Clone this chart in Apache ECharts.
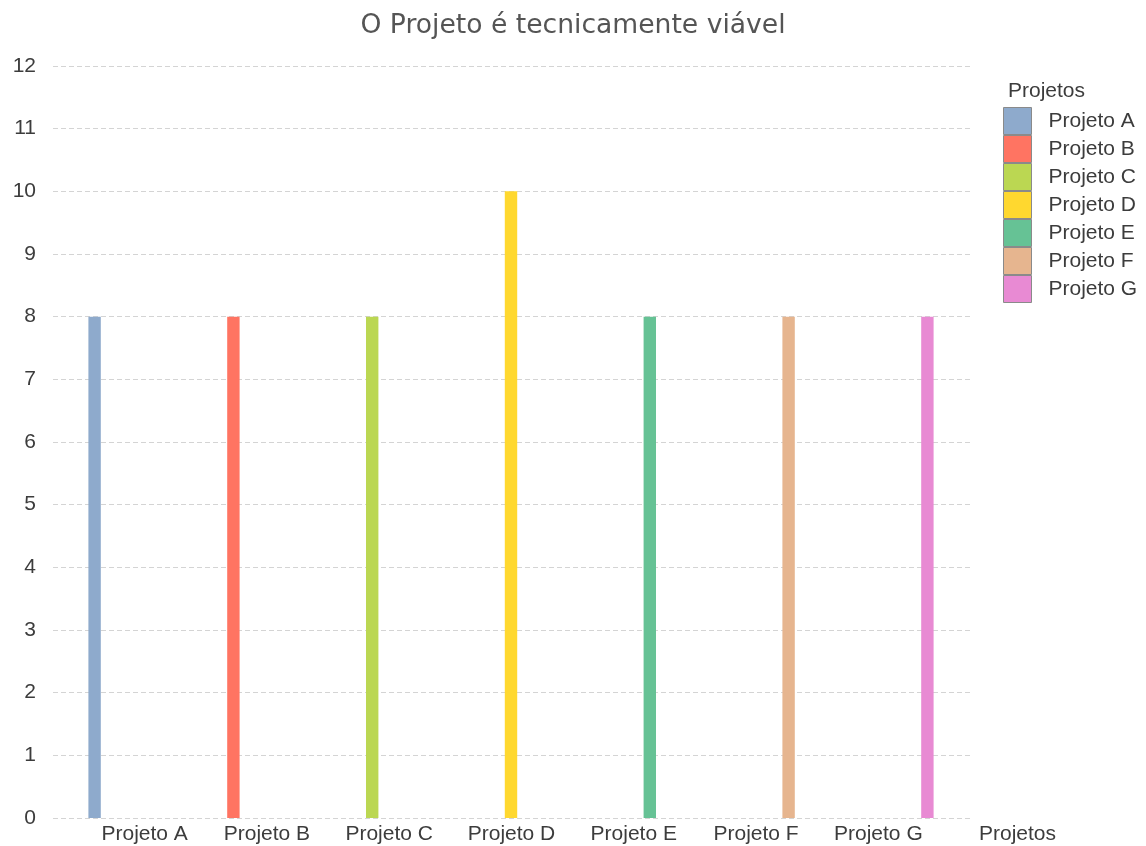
<!DOCTYPE html>
<html>
<head>
<meta charset="utf-8">
<title>O Projeto é tecnicamente viável</title>
<script src="https://cdn.jsdelivr.net/npm/echarts@6/dist/echarts.min.js"></script>
<style>
  html, body { margin: 0; padding: 0; background: #ffffff; }
  #chart { width: 1146px; height: 846px; }
</style>
</head>
<body>
<div id="chart"></div>
<script>
// Projects and the score each one received
const categories = ['Projeto A', 'Projeto B', 'Projeto C', 'Projeto D', 'Projeto E', 'Projeto F', 'Projeto G'];
const scores = [8, 8, 8, 10, 8, 8, 8];
const colors = ['#8eaacc', '#ff7462', '#bbd752', '#ffd82f', '#66c295', '#e6b58f', '#e88ad3'];
const yTicks = { min: 0, max: 12, interval: 1 };

const labelFont = 'Liberation Sans, Arial, sans-serif';
const textColor = '#3c3c3c';

// Each project is its own series, carrying a value only in its own category
const series = categories.map((name, i) => ({
  name: name,
  type: 'bar',
  xAxisIndex: 1,
  yAxisIndex: 1,
  barWidth: 12.4,
  barGap: '0%',
  itemStyle: { color: colors[i] },
  data: categories.map((c, j) => (j === i ? scores[i] : '-'))
}));

const chart = echarts.init(document.getElementById('chart'), null, { renderer: 'canvas' });

chart.setOption({
  animation: false,
  color: colors,
  title: [
    {
      text: 'O Projeto é tecnicamente viável',
      left: 'center',
      top: 8,
      textStyle: { fontFamily: 'DejaVu Sans, sans-serif', fontSize: 26.6, fontWeight: 'normal', color: '#555555' }
    },
    {
      text: 'Projetos',
      left: 1003,
      top: 76,
      textStyle: { fontFamily: labelFont, fontSize: 21, fontWeight: 'normal', color: textColor }
    }
  ],
  legend: {
    orient: 'vertical',
    left: 1003,
    top: 107,
    padding: 0,
    itemWidth: 28,
    itemHeight: 27,
    itemGap: 0,
    icon: 'rect',
    itemStyle: { borderColor: '#8a8a8a', borderWidth: 1 },
    textStyle: { fontFamily: labelFont, fontSize: 21, color: textColor, padding: [0, 0, 0, 12] },
    data: categories
  },
  grid: [
    // value scale and gridlines
    { left: 53, right: 174, top: 66, bottom: 28, containLabel: false },
    // bars
    { left: 68.6, right: 192.6, top: 66, bottom: 28, containLabel: false },
    // category labels
    { left: 83.5, right: 206.5, top: 66, bottom: 28, containLabel: false }
  ],
  xAxis: [
    { gridIndex: 0, type: 'category', data: categories, show: false },
    { gridIndex: 1, type: 'category', data: categories, show: false },
    {
      gridIndex: 2,
      type: 'category',
      data: categories,
      axisLine: { show: false },
      axisTick: { show: false },
      splitLine: { show: false },
      axisLabel: { fontFamily: labelFont, fontSize: 21, color: textColor, margin: 6 },
      name: 'Projetos',
      nameLocation: 'end',
      nameGap: 39.5,
      nameTextStyle: {
        fontFamily: labelFont, fontSize: 21, color: textColor,
        verticalAlign: 'top', align: 'left', padding: [6, 0, 0, 0]
      }
    }
  ],
  yAxis: [
    {
      gridIndex: 0,
      type: 'value',
      min: yTicks.min,
      max: yTicks.max,
      interval: yTicks.interval,
      axisLine: { show: false },
      axisTick: { show: false },
      axisLabel: { fontFamily: labelFont, fontSize: 21, color: textColor, margin: 17 },
      splitLine: { show: true, lineStyle: { color: '#d4d4d4', type: [5, 3], width: 1 } }
    },
    { gridIndex: 1, type: 'value', min: yTicks.min, max: yTicks.max, interval: yTicks.interval, show: false },
    { gridIndex: 2, type: 'value', min: yTicks.min, max: yTicks.max, interval: yTicks.interval, show: false }
  ],
  series: series
});
</script>
</body>
</html>
